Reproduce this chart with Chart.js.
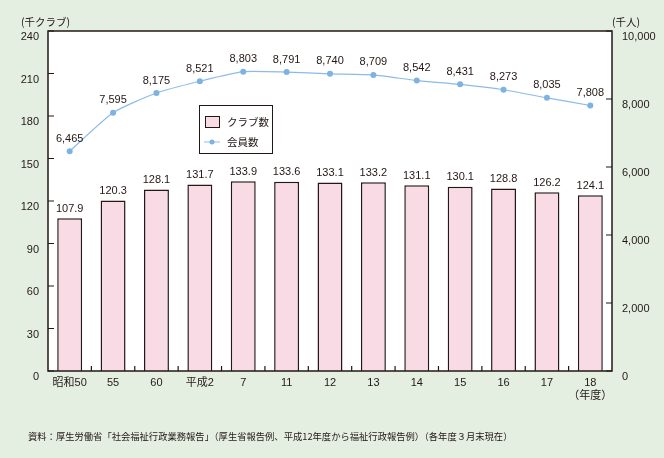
<!DOCTYPE html>
<html>
<head>
<meta charset="utf-8">
<script src="https://cdn.jsdelivr.net/npm/chart.js@4"></script>
<style>
  body { margin: 0; background: #e4efe2; }
  #wrap { position: relative; width: 664px; height: 458px; }
  .note { position: absolute; font-family: "Noto Sans CJK JP", sans-serif; color: #231815; white-space: nowrap; }
</style>
</head>
<body>
<div id="wrap">
  <canvas id="clubChart" width="664" height="458"></canvas>
  <div class="note" style="left:21px; top:14px; font-size:10.5px;">(千クラブ)</div>
  <div class="note" style="left:612px; top:14px; font-size:10.5px;">(千人)</div>
  <div class="note" style="left:28px; top:429px; font-size:9.3px;">資料：厚生労働省「社会福祉行政業務報告」（厚生省報告例、平成12年度から福祉行政報告例）（各年度３月末現在）</div>
</div>
<script>
// data
const years = ["昭和50", "55", "60", "平成2", "7", "11", "12", "13", "14", "15", "16", "17", ["18", "（年度）"]];
const clubs = [107.9, 120.3, 128.1, 131.7, 133.9, 133.6, 133.1, 133.2, 131.1, 130.1, 128.8, 126.2, 124.1];
const members = [6465, 7595, 8175, 8521, 8803, 8791, 8740, 8709, 8542, 8431, 8273, 8035, 7808];
const clubTicks = [0, 30, 60, 90, 120, 150, 180, 210, 240];
const memberTicks = [0, 2000, 4000, 6000, 8000, 10000];

const ink = "#231815";
const pink = "#f9dbe6";
const blue = "#8dbbe8";
const font = "'Liberation Sans', 'Noto Sans CJK JP', sans-serif";

let fmt = (v) => v.toLocaleString("en-US");

// white plot area, frame, inward ticks, value labels and the little legend box
const decorate = {
  id: "decorate",
  beforeDraw(chart) {
    const a = chart.chartArea, ctx = chart.ctx;
    ctx.save();
    ctx.fillStyle = "#ffffff";
    ctx.fillRect(a.left, a.top, a.right - a.left, a.bottom - a.top);
    ctx.restore();
  },
  afterDatasetsDraw(chart) {
    const ctx = chart.ctx, a = chart.chartArea;
    ctx.save();
    ctx.strokeStyle = ink;
    ctx.lineWidth = 1.5;
    ctx.strokeRect(a.left, a.top, a.right - a.left, a.bottom - a.top);

    ctx.lineWidth = 1.2;
    ctx.beginPath();
    clubTicks.forEach(function (t) {
      let y = chart.scales.y.getPixelForValue(t);
      ctx.moveTo(a.left, y); ctx.lineTo(a.left + 6, y);
    });
    memberTicks.forEach(function (t) {
      let y = chart.scales.y1.getPixelForValue(t);
      ctx.moveTo(a.right, y); ctx.lineTo(a.right - 6, y);
    });
    const xs = chart.scales.x;
    for (let i = 0; i < years.length - 1; i++) {
      let x = (xs.getPixelForValue(i) + xs.getPixelForValue(i + 1)) / 2;
      ctx.moveTo(x, a.bottom); ctx.lineTo(x, a.bottom - 5);
    }
    ctx.stroke();

    // value labels
    ctx.fillStyle = ink;
    ctx.font = "11px " + font;
    ctx.textAlign = "center";
    ctx.textBaseline = "bottom";
    chart.getDatasetMeta(1).data.forEach(function (bar, i) {
      ctx.fillText(clubs[i].toFixed(1), bar.x, bar.y - 4);
    });
    chart.getDatasetMeta(0).data.forEach(function (pt, i) {
      ctx.fillText(fmt(members[i]), pt.x, pt.y - 7);
    });

    // legend
    const lx = 199, ly = 105;
    ctx.fillStyle = "#ffffff";
    ctx.fillRect(lx, ly, 73, 48);
    ctx.lineWidth = 1;
    ctx.strokeStyle = ink;
    ctx.strokeRect(lx + 0.5, ly + 0.5, 73, 48);
    ctx.fillStyle = pink;
    ctx.fillRect(lx + 6, ly + 11, 15, 12);
    ctx.strokeRect(lx + 6.5, ly + 11.5, 14, 11);
    ctx.strokeStyle = blue;
    ctx.beginPath();
    ctx.moveTo(lx + 5, ly + 37); ctx.lineTo(lx + 21, ly + 37);
    ctx.stroke();
    ctx.fillStyle = "#7eb2e3";
    ctx.beginPath();
    ctx.arc(lx + 13, ly + 37, 2.5, 0, Math.PI * 2);
    ctx.fill();
    ctx.fillStyle = ink;
    ctx.textAlign = "left";
    ctx.textBaseline = "middle";
    ctx.font = "10.5px 'Noto Sans CJK JP', sans-serif";
    ctx.fillText("クラブ数", lx + 28, ly + 17);
    ctx.fillText("会員数", lx + 28, ly + 37);
    ctx.restore();
  }
};

var ctx = document.getElementById("clubChart").getContext("2d");
var clubChart = new Chart(ctx, {
  type: "bar",
  data: {
    labels: years,
    datasets: [{
      type: "line",
      label: "会員数",
      data: members,
      yAxisID: "y1",
      borderColor: blue,
      borderWidth: 1.2,
      pointRadius: 3,
      pointBorderWidth: 0,
      pointBackgroundColor: "#7eb2e3",
      tension: 0.2,
      order: 0
    }, {
      label: "クラブ数",
      data: clubs,
      yAxisID: "y",
      backgroundColor: pink,
      borderColor: ink,
      borderWidth: 1.5,
      categoryPercentage: 1,
      barPercentage: 0.575,
      order: 1
    }]
  },
  options: {
    responsive: false,
    devicePixelRatio: 1,
    animation: false,
    layout: { padding: { top: 31, left: 0, right: 0, bottom: 0 } },
    plugins: { legend: { display: false }, tooltip: { enabled: false } },
    scales: {
      x: {
        grid: { display: false, drawTicks: false },
        border: { display: false },
        ticks: { color: ink, font: { size: 11, family: font }, padding: 5, maxRotation: 0, autoSkip: false },
        afterFit: function (s) { s.height = 87; }
      },
      y: {
        position: "left",
        min: 0, max: 240,
        grid: { display: false, drawTicks: false },
        border: { display: false },
        ticks: { stepSize: 30, color: ink, font: { size: 11, family: font }, padding: 9, labelOffset: 6 },
        afterFit: function (s) { s.width = 48; }
      },
      y1: {
        position: "right",
        min: 0, max: 10000,
        grid: { display: false, drawTicks: false },
        border: { display: false },
        ticks: { stepSize: 2000, color: ink, font: { size: 11, family: font }, padding: 10, labelOffset: 6,
          callback: function (v) { return fmt(v); } },
        afterFit: function (s) { s.width = 52; }
      }
    }
  },
  plugins: [decorate]
});
</script>
</body>
</html>
